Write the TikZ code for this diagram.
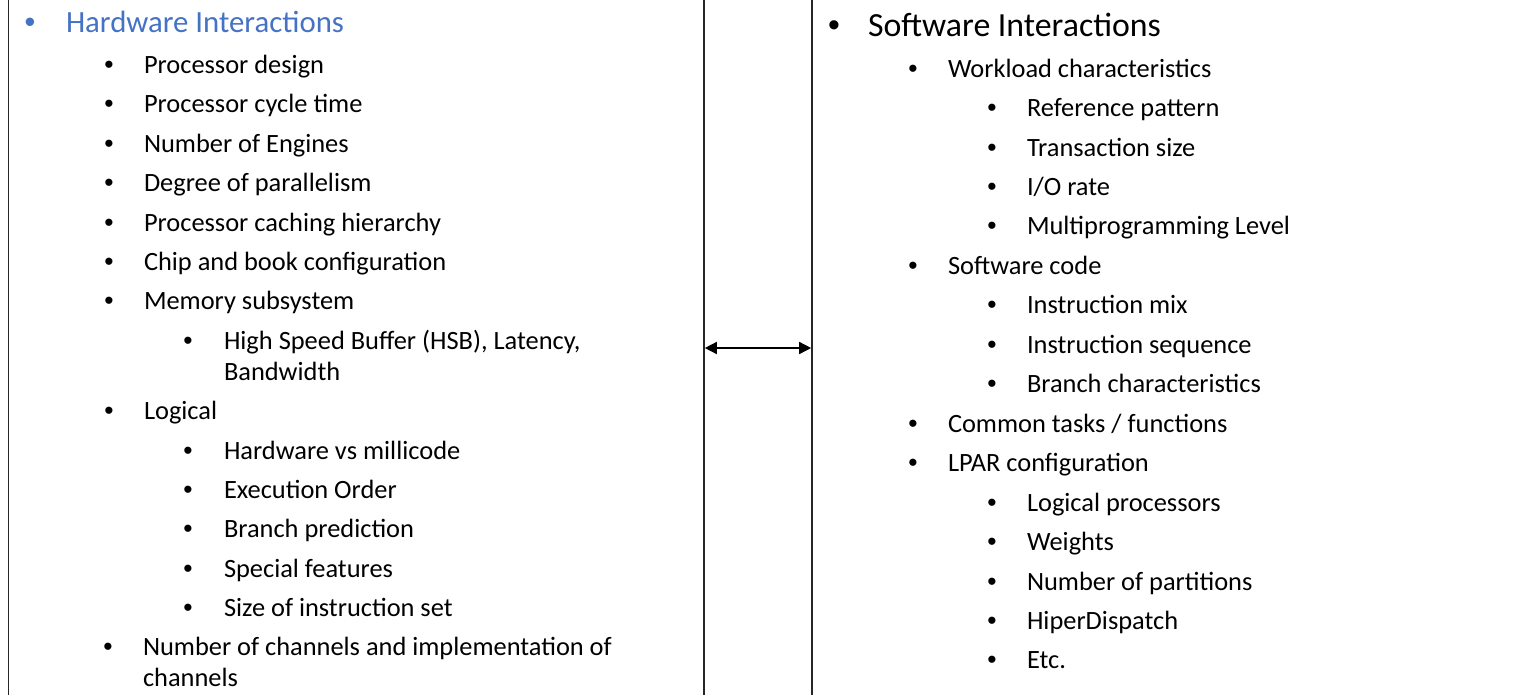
\documentclass[tikz,border=0pt]{standalone}
\usepackage{fontspec}
\setmainfont{Carlito}
\newfontfamily\bulfont{Liberation Sans}
\usetikzlibrary{arrows.meta}
\definecolor{hwblue}{HTML}{4472C4}
\tikzset{
  panel/.style={draw=black!85, line width=1.6pt, inner sep=0pt},
  itm/.style={anchor=base west, inner sep=0pt, outer sep=0pt, align=left, font=\fontsize{26.4}{31}\selectfont},
  bul/.style={anchor=base, inner sep=0pt, outer sep=0pt, font=\bulfont\fontsize{26.4}{31}\selectfont},
  link/.style={line width=1.5pt, {Triangle[length=12pt,width=12pt]}-{Triangle[length=12pt,width=12pt]}}
}
\begin{document}
\begin{tikzpicture}[x=1pt,y=-1pt]
\useasboundingbox (0,0) rectangle (1530,694);
\clip (0,0) rectangle (1530,694);
% panels
\node[panel, minimum width=695.5pt, minimum height=740pt] (hw) at (356.25,348) {};
\node[panel, minimum width=740pt, minimum height=740pt] (sw) at (1182,348) {};
\draw[link] (hw.east) -- (sw.west);

% ---------- left column ----------
\node[bul, text=hwblue, font=\bulfont\fontsize{30.8}{36}\selectfont] (hb) at (30,32) {•};
\node[itm, text=hwblue, font=\fontsize{30.8}{36}\selectfont] (ht) at (66,32) {Hardware Interactions};

\node[bul] (lb1) at (109,73) {•};   \node[itm] (l1) at (144,73) {Processor design};
\node[bul] (lb2) at (109,112) {•};  \node[itm] (l2) at (144,112) {Processor cycle time};
\node[bul] (lb3) at (109,152) {•};  \node[itm] (l3) at (144,152) {Number of Engines};
\node[bul] (lb4) at (109,191) {•};  \node[itm] (l4) at (144,191) {Degree of parallelism};
\node[bul] (lb5) at (109,231) {•};  \node[itm] (l5) at (144,231) {Processor caching hierarchy};
\node[bul] (lb6) at (109,270) {•};  \node[itm] (l6) at (144,270) {Chip and book configuration};
\node[bul] (lb7) at (109,309) {•};  \node[itm] (l7) at (144,309) {Memory subsystem};
\node[bul] (lb8) at (188,349) {•};  \node[itm] (l8) at (224,380) {High Speed Buffer (HSB), Latency,\\Bandwidth};
\node[bul] (lb9) at (109,419) {•};  \node[itm] (l9) at (144,419) {Logical};
\node[bul] (lb10) at (188,459) {•}; \node[itm] (l10) at (224,459) {Hardware vs millicode};
\node[bul] (lb11) at (188,498) {•}; \node[itm] (l11) at (224,498) {Execution Order};
\node[bul] (lb12) at (188,537) {•}; \node[itm] (l12) at (224,537) {Branch prediction};
\node[bul] (lb13) at (188,577) {•}; \node[itm] (l13) at (224,577) {Special features};
\node[bul] (lb14) at (188,616) {•}; \node[itm] (l14) at (224,616) {Size of instruction set};
\node[bul] (lb15) at (108,655) {•}; \node[itm] (l15) at (143,686) {Number of channels and implementation of\\channels};

% ---------- right column ----------
\node[bul, font=\bulfont\fontsize{33.8}{40}\selectfont] (sb) at (834,36) {•};
\node[itm, font=\fontsize{33.8}{40}\selectfont] (st) at (868,36) {Software Interactions};

\node[bul] (rb1) at (913,77) {•};    \node[itm] (r1) at (948,77) {Workload characteristics};
\node[bul] (rb2) at (992,116) {•};   \node[itm] (r2) at (1027,116) {Reference pattern};
\node[bul] (rb3) at (992,156) {•};   \node[itm] (r3) at (1027,156) {Transaction size};
\node[bul] (rb4) at (992,195) {•};   \node[itm] (r4) at (1027,195) {I/O rate};
\node[bul] (rb5) at (992,234) {•};   \node[itm] (r5) at (1027,234) {Multiprogramming Level};
\node[bul] (rb6) at (913,274) {•};   \node[itm] (r6) at (948,274) {Software code};
\node[bul] (rb7) at (992,313) {•};   \node[itm] (r7) at (1027,313) {Instruction mix};
\node[bul] (rb8) at (992,353) {•};   \node[itm] (r8) at (1027,353) {Instruction sequence};
\node[bul] (rb9) at (992,392) {•};   \node[itm] (r9) at (1027,392) {Branch characteristics};
\node[bul] (rb10) at (913,432) {•};  \node[itm] (r10) at (948,432) {Common tasks / functions};
\node[bul] (rb11) at (913,471) {•};  \node[itm] (r11) at (948,471) {LPAR configuration};
\node[bul] (rb12) at (992,511) {•};  \node[itm] (r12) at (1027,511) {Logical processors};
\node[bul] (rb13) at (992,550) {•};  \node[itm] (r13) at (1027,550) {Weights};
\node[bul] (rb14) at (992,590) {•};  \node[itm] (r14) at (1027,590) {Number of partitions};
\node[bul] (rb15) at (992,629) {•};  \node[itm] (r15) at (1027,629) {HiperDispatch};
\node[bul] (rb16) at (992,668) {•};  \node[itm] (r16) at (1027,668) {Etc.};
\end{tikzpicture}
\end{document}
